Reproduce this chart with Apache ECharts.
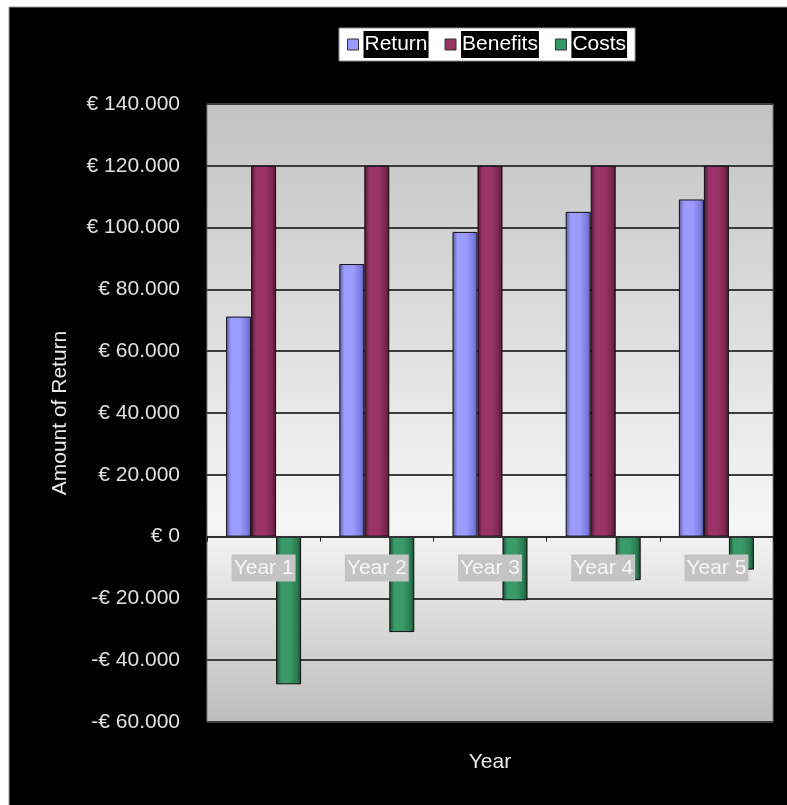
<!DOCTYPE html>
<html>
<head>
<meta charset="utf-8">
<title>Return, Benefits and Costs per Year</title>
<script src="https://cdn.jsdelivr.net/npm/echarts@6/dist/echarts.min.js"></script>
<style>
	html, body { margin: 0; padding: 0; background: #fff; }
	#main { width: 787px; height: 805px; }
</style>
</head>
<body>
<div id="main"></div>
<script>
var years = ['Year 1', 'Year 2', 'Year 3', 'Year 4', 'Year 5'];
var returnValues = [71200, 88200, 98600, 105100, 109100];
var benefitValues = [120000, 120000, 120000, 120000, 120000];
var costValues = [-47800, -30900, -20600, -14100, -10700];
var yTicks = { min: -60000, max: 140000, step: 20000 };

function euro(v) {
	var s = Math.abs(v).toString().replace(/\B(?=(\d{3})+(?!\d))/g, '.');
	return (v < 0 ? '-' : '') + '€ ' + s;
}

// cylinder-like shading, dark at the edges
function shade(dark, light, mid) {
	return {
		type : 'linear', x : 0, y : 0, x2 : 1, y2 : 0,
		colorStops : [
			{ offset : 0, color : dark },
			{ offset : 0.2, color : light },
			{ offset : 0.55, color : light },
			{ offset : 0.85, color : mid },
			{ offset : 1, color : dark }
		]
	};
}

function barSeries(name, data, fill) {
	return {
		name : name,
		type : 'bar',
		data : data,
		barWidth : 25,
		barGap : '0%',
		itemStyle : {
			color : fill,
			borderColor : '#111',
			borderWidth : 1
		},
		emphasis : { disabled : true }
	};
}

function drawChart(divId) {
	var chart = echarts.init(document.getElementById(divId), null, { renderer : 'canvas' });
	var font = 'Liberation Sans, Arial, sans-serif';
	var gridTop = 104, gridBottom = 83, chartH = 805;
	var plotH = chartH - gridTop - gridBottom;
	// the category axis sits on the zero line, so shift it up from the bottom edge
	var zeroShift = -plotH * (0 - yTicks.min) / (yTicks.max - yTicks.min);

	chart.setOption({
		animation : false,
		backgroundColor : '#fff',
		textStyle : { fontFamily : font },
		graphic : [ {
			type : 'rect',
			z : -10,
			shape : { x : 9, y : 7, width : 790, height : 810 },
			style : { fill : '#000', stroke : '#9a9a9a', lineWidth : 1 }
		} ],
		legend : {
			left : 339,
			top : 28,
			padding : [ 3, 8 ],
			backgroundColor : '#fff',
			borderColor : '#8a8a8a',
			borderWidth : 1,
			icon : 'rect',
			itemWidth : 11,
			itemHeight : 11,
			itemGap : 16,
			selectedMode : false,
			textStyle : {
				fontFamily : font,
				fontSize : 21,
				color : '#fff',
				backgroundColor : '#000',
				padding : [ 3, 1 ]
			},
			data : [
				{ name : 'Return', itemStyle : { color : '#9999ff', borderColor : '#333', borderWidth : 1 } },
				{ name : 'Benefits', itemStyle : { color : '#993366', borderColor : '#333', borderWidth : 1 } },
				{ name : 'Costs', itemStyle : { color : '#339966', borderColor : '#333', borderWidth : 1 } }
			]
		},
		grid : {
			left : 207,
			right : 14,
			top : gridTop,
			bottom : gridBottom,
			outerBoundsMode : 'none',
			containLabel : false,
			show : true,
			borderColor : '#7a7a7a',
			borderWidth : 1,
			backgroundColor : {
				type : 'linear', x : 0, y : 0, x2 : 0, y2 : 1,
				colorStops : [
					{ offset : 0, color : '#c2c2c2' },
					{ offset : 0.68, color : '#f6f6f6' },
					{ offset : 1, color : '#bdbdbd' }
				]
			}
		},
		xAxis : {
			type : 'category',
			data : years,
			z : 5,
			offset : zeroShift,
			name : 'Year',
			nameLocation : 'middle',
			nameGap : 215,
			nameTextStyle : { color : '#e8e8e8', fontSize : 21 },
			axisLine : { onZero : false, lineStyle : { color : '#303030', width : 2 } },
			axisTick : { show : true, length : 5, lineStyle : { color : '#222', width : 1 } },
			axisLabel : {
				margin : 18,
				fontSize : 21,
				color : '#f6f6f6',
				backgroundColor : '#c4c4c4',
				padding : [ 3, 2 ]
			}
		},
		yAxis : {
			type : 'value',
			min : yTicks.min,
			max : yTicks.max,
			interval : yTicks.step,
			name : 'Amount of Return',
			nameLocation : 'middle',
			nameGap : 136,
			nameTextStyle : { color : '#e8e8e8', fontSize : 21 },
			axisLine : { show : false },
			axisTick : { show : false },
			axisLabel : {
				margin : 27,
				fontSize : 21,
				color : '#e0e0e0',
				formatter : euro
			},
			splitLine : { lineStyle : { color : '#3c3c3c', width : 2 } }
		},
		series : [
			barSeries('Return', returnValues, shade('#5a5aa8', '#9c9cff', '#7c7ce0')),
			barSeries('Benefits', benefitValues, shade('#4a1530', '#9a3468', '#7a2650')),
			barSeries('Costs', costValues, shade('#184a30', '#3a9a68', '#2a7a50'))
		]
	});

	return chart;
}

drawChart('main');
</script>
</body>
</html>
